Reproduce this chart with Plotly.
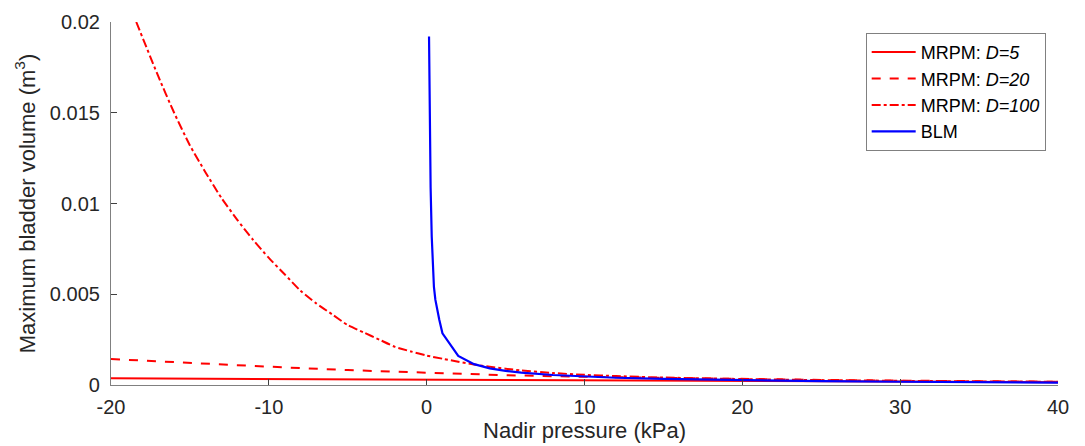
import plotly.graph_objects as go

# ---- data ----
x_d5 = [-20, -10, 0, 10, 20, 30, 40]
v_d5 = [0.00037, 0.00033, 0.00028, 0.00024, 0.00020, 0.00017, 0.00015]

x_d20 = [-20, -15, -10, -5, 0, 5, 10, 15, 20, 25, 30, 35, 40]
v_d20 = [0.00143, 0.00121, 0.00101, 0.00082, 0.00066, 0.00054, 0.00045,
         0.00038, 0.00032, 0.00028, 0.00024, 0.00020, 0.00018]

x_d100 = [-18.4, -17, -16, -15, -14, -13, -12, -11, -10, -9, -8, -7, -6, -5,
          -4, -3, -2, -1, 0, 1, 2, 3, 4, 5, 6, 8, 10, 12, 15, 20, 25, 30, 35, 40]
v_d100 = [0.0200, 0.0170, 0.0150, 0.0132, 0.0117, 0.0103, 0.0091, 0.0080,
          0.0070, 0.0061, 0.0052, 0.0045, 0.0039, 0.0033, 0.0029, 0.0025,
          0.0021, 0.00185, 0.00162, 0.00145, 0.00128, 0.00113, 0.00100, 0.00090,
          0.00080, 0.00066, 0.00056, 0.00049, 0.00041, 0.00033, 0.00027,
          0.00023, 0.00020, 0.00018]

x_blm = [0.15, 0.2, 0.25, 0.32, 0.4, 0.46, 0.55, 0.68, 0.8, 1, 2, 3, 4, 5, 6,
         8, 10, 12, 15, 20, 25, 30, 35, 40]
v_blm = [0.0192, 0.0140, 0.0109, 0.0082, 0.0063, 0.0054, 0.0047, 0.0041,
         0.0036, 0.00285, 0.0016, 0.00115, 0.00092, 0.00078, 0.00068, 0.00055,
         0.00046, 0.00040, 0.00034, 0.00026, 0.00021, 0.00018, 0.00015, 0.00013]

x_ticks = [-20, -10, 0, 10, 20, 30, 40]
x_tick_labels = ["-20", "-10", "0", "10", "20", "30", "40"]
y_ticks = [0, 0.005, 0.01, 0.015, 0.02]
y_tick_labels = ["0", "0.005", "0.01", "0.015", "0.02"]

FONT = "Liberation Sans, Arial, Helvetica, sans-serif"
RED = "#ff0000"
BLUE = "#0000ff"
TXT = "#262626"

fig = go.Figure()
fig.add_trace(go.Scatter(x=x_d5, y=v_d5, mode="lines", name="MRPM: <i>D=5</i>",
                         line=dict(color=RED, width=2, dash="solid")))
fig.add_trace(go.Scatter(x=x_d20, y=v_d20, mode="lines", name="MRPM: <i>D=20</i>",
                         line=dict(color=RED, width=2, dash="dash")))
fig.add_trace(go.Scatter(x=x_d100, y=v_d100, mode="lines", name="MRPM: <i>D=100</i>",
                         line=dict(color=RED, width=2, dash="dashdot",
                                   shape="spline", smoothing=0.6)))
fig.add_trace(go.Scatter(x=x_blm, y=v_blm, mode="lines", name="BLM",
                         line=dict(color=BLUE, width=2.2)))

fig.update_layout(
    width=1085, height=446,
    margin=dict(l=111, r=27, t=22, b=61, autoexpand=False),
    paper_bgcolor="white", plot_bgcolor="white",
    font=dict(family=FONT, color=TXT, size=20),
    xaxis=dict(
        range=[-20, 40], tickmode="array", tickvals=x_ticks, ticktext=x_tick_labels,
        showline=True, linecolor="#808080", linewidth=1.2,
        ticks="inside", ticklen=6, tickcolor="#404040", tickwidth=1,
        showgrid=False, zeroline=False, automargin=False,
        tickfont=dict(family=FONT, size=20, color=TXT),
        ticklabelstandoff=4,
        title=dict(text="Nadir pressure (kPa)", standoff=4,
                   font=dict(family=FONT, size=22, color=TXT)),
    ),
    yaxis=dict(
        range=[0, 0.02], tickmode="array", tickvals=y_ticks, ticktext=y_tick_labels,
        showline=True, linecolor="#808080", linewidth=1.2,
        ticks="inside", ticklen=6, tickcolor="#404040", tickwidth=1,
        showgrid=False, zeroline=False, automargin=False,
        tickfont=dict(family=FONT, size=20, color=TXT),
        ticklabelstandoff=6,
        title=dict(text="Maximum bladder volume (m<sup>3</sup>)", standoff=8,
                   font=dict(family=FONT, size=22, color=TXT)),
    ),
    legend=dict(x=0.987, y=0.97, xanchor="right", yanchor="top",
                bgcolor="white", bordercolor="#808080", borderwidth=1,
                font=dict(family=FONT, size=18, color="#000000"),
                tracegroupgap=0, itemwidth=44),
    showlegend=True,
)

fig.write_html("out.html", config={"displayModeBar": False},
               post_script="document.body.style.margin='0px';")
